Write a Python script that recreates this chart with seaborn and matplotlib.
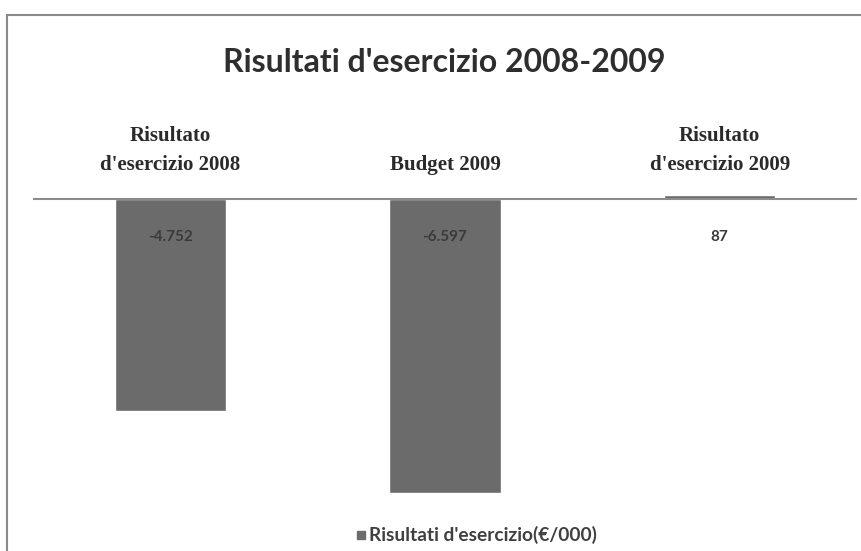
import matplotlib
matplotlib.use("Agg")
import matplotlib.pyplot as plt
import seaborn as sns
import pandas as pd
from matplotlib.patches import Rectangle

# chart data
categories = ["Risultato\nd'esercizio 2008", "Budget 2009", "Risultato\nd'esercizio 2009"]
values = [-4752, -6597, 87]
value_labels = ["-4.752", "-6.597", "87"]
series_name = "Risultati d'esercizio(€/000)"

sns.set_theme(style="white")
plt.rcParams["font.family"] = ["Lato", "DejaVu Sans"]

df = pd.DataFrame({"categoria": categories, "valore": values})

fig = plt.figure(figsize=(8.61, 5.51), dpi=100)
fig.patch.set_facecolor("white")

# outer frame (cropped on the right and bottom like the scan)
fig.add_artist(Rectangle((7 / 861, -0.05), 1.2, 1 - 15 / 551 + 0.05, transform=fig.transFigure,
                         fill=False, edgecolor="#8a8a8a", linewidth=1.5))

ax = fig.add_axes([33 / 861, 1 - 505 / 551, (857 - 33) / 861, (505 - 190) / 551])
sns.barplot(data=df, x="categoria", y="valore", color="#6b6b6b", width=0.405,
            saturation=1, ax=ax)
ax.set_ylim(-6861, 200)
ax.set_xlim(-0.5, 2.5)
ax.axhline(0, color="#8c8c8c", linewidth=1.5, zorder=1)
for s in ax.spines.values():
    s.set_visible(False)
ax.set_yticks([])
ax.set_xlabel("")
ax.set_ylabel("")
ax.xaxis.tick_top()
ax.tick_params(axis="x", length=0, pad=11)
ax.set_xticks(range(len(categories)))
ax.set_xticklabels(categories, family=["Liberation Serif"], fontweight="bold",
                   fontsize=15, color="#2a2a2a", linespacing=1.55)

for i, lab in enumerate(value_labels):
    ax.text(i, -850, lab, ha="center", va="center", fontsize=11, fontweight="bold",
            color="#3a3a3a")

fig.text(444 / 861, 1 - 63 / 551, "Risultati d'esercizio 2008-2009", ha="center", va="center",
         fontsize=23, fontweight="bold", color="#2e2e2e")

# legend
fig.add_artist(Rectangle((357 / 861, 1 - 539 / 551), 8 / 861, 8 / 551, transform=fig.transFigure,
                         color="#6b6b6b"))
fig.text(369 / 861, 1 - 535 / 551, series_name, ha="left", va="center",
         fontsize=13.8, fontweight="bold", color="#404040")

fig.savefig("out.png", dpi=100)
